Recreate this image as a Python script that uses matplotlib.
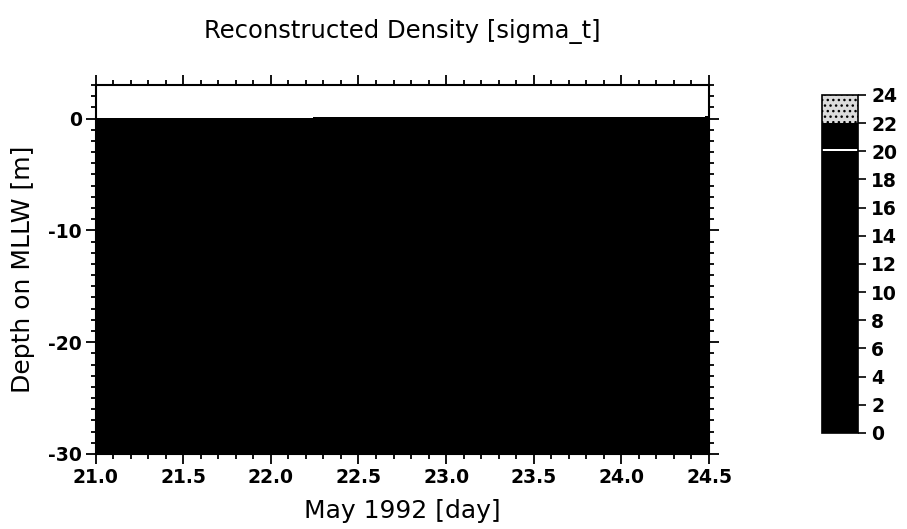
import numpy as np
import matplotlib
matplotlib.use("Agg")
import matplotlib.pyplot as plt
from matplotlib.ticker import MultipleLocator

plt.rcParams['font.family'] = ['DejaVu Sans']
plt.rcParams['axes.unicode_minus'] = False

# --- data ---
# time axis (May 1992, day) and depth levels (m on MLLW)
times = [21.0, 21.5, 22.0, 22.5, 23.0, 23.5, 24.0, 24.5]
depths = [-30, -25, -20, -15, -10, -5, 0]
# water surface is nearly flat, rising a touch to the right
surface = [0.0, 0.02, 0.04, 0.06, 0.08, 0.1, 0.12, 0.14]
# sigma_t profile, bottom to top (everything renders black in the scan)
sigma_profile = [19.8, 19.6, 19.4, 19.2, 19.0, 18.8, 18.6]

# colour classes seen on the colour bar
levels = [0, 20, 20.15, 22, 24]
level_colors = ['black', 'white', 'black', '#dcdcdc']
level_hatches = [None, None, None, '...']
cbar_ticks = list(range(0, 25, 2))

# --- grids ---
T, Z = np.meshgrid(times, depths)
S = np.tile(np.array(sigma_profile)[:, None], (1, len(times)))
# stretch the top row to the surface
Z = Z.astype(float)
Z[-1, :] = surface

fig = plt.figure(figsize=(9.07, 5.29), dpi=100)
ax = fig.add_axes([0.1054, 0.1418, 0.6763, 0.6975])
cs = ax.contourf(T, Z, S, levels=levels, colors=level_colors,
                 hatches=level_hatches)

ax.set_xlim(21.0, 24.5)
ax.set_ylim(-30, 3)
ax.xaxis.set_major_locator(MultipleLocator(0.5))
ax.xaxis.set_minor_locator(MultipleLocator(0.1))
ax.yaxis.set_major_locator(MultipleLocator(10))
ax.yaxis.set_minor_locator(MultipleLocator(1))
ax.xaxis.set_major_formatter(plt.FormatStrFormatter('%.1f'))

ax.tick_params(which='both', direction='out', top=True, right=True,
               width=1.3, labelsize=13.5)
ax.tick_params(which='major', length=7, pad=3)
ax.tick_params(which='minor', length=3.5)
for lbl in ax.get_xticklabels() + ax.get_yticklabels():
    lbl.set_fontweight('bold')
for sp in ax.spines.values():
    sp.set_linewidth(1.5)

ax.set_title("Reconstructed Density [sigma_t]", fontsize=17.5, pad=34)
ax.set_xlabel("May 1992 [day]", fontsize=18, labelpad=9)
ax.set_ylabel("Depth on MLLW [m]", fontsize=18, labelpad=9)

# colour bar
cax = fig.add_axes([0.9063, 0.1815, 0.0397, 0.639])
cb = fig.colorbar(cs, cax=cax, ticks=cbar_ticks, spacing='proportional')
cb.outline.set_linewidth(1.2)
cax.tick_params(direction='out', length=6, width=1.2, labelsize=13.5)
for lbl in cax.get_yticklabels():
    lbl.set_fontweight('bold')

fig.savefig("out.png", dpi=100)
